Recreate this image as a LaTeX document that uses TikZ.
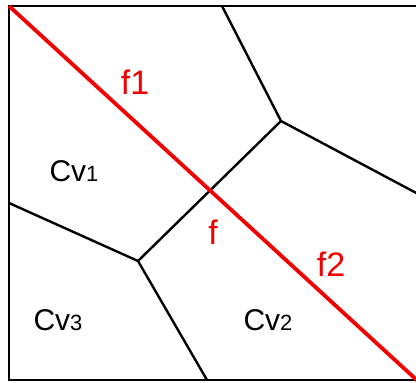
\documentclass[tikz,border=0pt]{standalone}
\usepackage{fontspec}
\setmainfont{Liberation Sans}
\begin{document}
\begin{tikzpicture}[x=1pt,y=-1pt,
  edge/.style={draw=black,line width=2.4pt},
  cut/.style={draw=red!95!black,line width=3.8pt},
  redlab/.style={text=red!95!black,font=\fontsize{34}{36}\selectfont,inner sep=0pt},
  cell/.style={font=\fontsize{30}{32}\selectfont,inner sep=0pt}]
\useasboundingbox (0,0) rectangle (416,383);
\fill[white] (0,0) rectangle (416,383);
% frame corners
\coordinate (TL) at (9,6);
\coordinate (TR) at (420,6);
\coordinate (BL) at (9,380);
\coordinate (BR) at (420,380);
% voronoi vertices
\coordinate (T) at (222,6);
\coordinate (A) at (281,121);
\coordinate (R) at (420,195);
\coordinate (C) at (138,261);
\coordinate (L) at (9,203);
\coordinate (B) at (207,380);
\coordinate (E) at (420,383);
\draw[edge,line cap=square] (TR) -- (TL) -- (BL) -- (BR);
\draw[edge] (T) -- (A) -- (R);
\draw[edge] (A) -- (C);
\draw[edge] (L) -- (C) -- (B);
\draw[cut,line cap=butt] (TL) -- (E);
\node[redlab] (f1) at (135,82) {f1};
\node[redlab] (f) at (213,232) {f};
\node[redlab] (f2) at (331,264) {f2};
\node[cell] (cv1) at (74,171) {Cv{\fontsize{22}{24}\selectfont 1}};
\node[cell] (cv3) at (58,320) {Cv{\fontsize{22}{24}\selectfont 3}};
\node[cell] (cv2) at (268,320) {Cv{\fontsize{22}{24}\selectfont 2}};
\end{tikzpicture}
\end{document}
